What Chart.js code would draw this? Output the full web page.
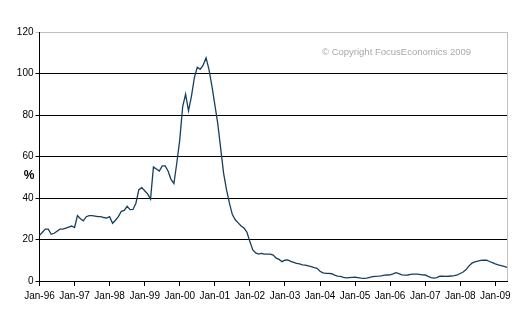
<!DOCTYPE html>
<html>
<head>
<meta charset="utf-8">
<script src="https://cdn.jsdelivr.net/npm/chart.js@4"></script>
<style>
  html, body { margin: 0; padding: 0; background: #fff; }
  #wrap { width: 525px; height: 325px; position: relative; }
</style>
</head>
<body>
<div id="wrap"><canvas id="lineChart"></canvas></div>
<script>
// monthly series, Jan-96 .. May-09 (%)
const startYear = 1996;
const values = [
    22, 23.5, 25, 25, 22.5, 23, 24, 25, 25, 25.5, 26, 26.5,          // 1996
    25.8, 31.5, 30, 29, 31, 31.5, 31.5, 31.3, 31, 31, 30.6, 30.3,    // 1997
    31, 27.8, 29.3, 31, 33.6, 34, 36, 34.4, 34.5, 37.5, 44, 45,      // 1998
    43.5, 42, 39.5, 55, 54, 53, 55.5, 55.5, 53, 49, 47, 57,          // 1999
    68, 84, 90, 82, 89, 98, 103, 102, 104, 107.5, 102, 94,           // 2000
    85, 76, 64, 52, 44, 37.5, 32, 29.5, 28, 26.5, 25.5, 23.5,        // 2001
    19, 15, 13.5, 13, 13.3, 13, 13, 13, 12.5, 11, 10.4, 9.3,         // 2002
    10, 10.2, 9.5, 9, 8.5, 8.2, 7.8, 7.7, 7.3, 6.9, 6.4, 6.1,        // 2003
    4.7, 3.9, 3.7, 3.7, 3.5, 2.8, 2.4, 2.2, 1.8, 1.5, 1.6, 1.7,      // 2004
    1.8, 1.6, 1.4, 1.3, 1.4, 1.8, 2.1, 2.2, 2.3, 2.5, 2.8, 2.9,      // 2005
    3.0, 3.4, 4.0, 3.6, 3.0, 2.8, 2.9, 3.2, 3.3, 3.3, 3.2, 3.0,      // 2006
    2.9, 2.2, 1.6, 1.4, 1.6, 2.3, 2.3, 2.2, 2.3, 2.4, 2.6, 3.0,      // 2007
    3.6, 4.3, 5.5, 7.3, 8.6, 9.2, 9.6, 9.9, 10.1, 10.0, 9.4, 8.9,    // 2008
    8.3, 7.8, 7.4, 7.0, 6.6                                           // 2009
];
const yTicks = [0, 20, 40, 60, 80, 100, 120];
const monthNames = ["Jan", "Feb", "Mar", "Apr", "May", "Jun",
                    "Jul", "Aug", "Sep", "Oct", "Nov", "Dec"];

// category labels like "Jan-96"
const labels = values.map((v, i) => {
    const yr = (startYear + Math.floor(i / 12)) % 100;
    return monthNames[i % 12] + "-" + String(yr).padStart(2, "0");
});

const FONT = "'Liberation Sans', Arial, sans-serif";

// frame, "%" label and copyright note
const extras = {
    id: 'extras',
    afterDraw(chart) {
        const ctx = chart.ctx;
        const a = chart.chartArea;
        ctx.save();
        ctx.strokeStyle = '#c0c0c0';
        ctx.lineWidth = 1;
        ctx.beginPath();
        ctx.moveTo(a.right + 0.5, a.top);
        ctx.lineTo(a.right + 0.5, a.bottom);
        ctx.stroke();

        ctx.fillStyle = '#000';
        ctx.font = "bold 12px " + FONT;
        ctx.textAlign = 'center';
        ctx.textBaseline = 'middle';
        ctx.fillText('%', 29, 176);

        ctx.fillStyle = '#a8a8a8';
        ctx.font = "9.5px " + FONT;
        ctx.textAlign = 'left';
        ctx.fillText('\u00A9 Copyright FocusEconomics 2009', 322, 52);
        ctx.restore();
    }
};

const ctx = document.getElementById('lineChart');
new Chart(ctx, {
    type: 'line',
    data: {
        labels: labels,
        datasets: [{
            data: values,
            borderColor: '#173f5c',
            borderWidth: 1.3,
            pointRadius: 0,
            tension: 0,
            fill: false
        }]
    },
    options: {
        responsive: true,
        maintainAspectRatio: false,
        animation: false,
        layout: { padding: { top: 32, right: 18, left: 0, bottom: 0 } },
        plugins: {
            legend: { display: false },
            tooltip: { enabled: false }
        },
        scales: {
            x: {
                type: 'category',
                offset: false,
                afterFit(scale) { scale.height = 44; },
                border: { color: '#000', width: 1 },
                grid: {
                    drawOnChartArea: false,
                    tickLength: 5,
                    color: c => (c.index % 12 === 0 ? '#000' : 'rgba(0,0,0,0)')
                },
                ticks: {
                    autoSkip: false,
                    maxRotation: 0,
                    minRotation: 0,
                    padding: 4,
                    color: '#000',
                    font: { family: FONT, size: 10 },
                    callback: function (val, i) {
                        return i % 12 === 0 ? labels[i] : '';
                    }
                }
            },
            y: {
                min: 0,
                max: 120,
                afterFit(scale) { scale.width = 39.5; },
                afterBuildTicks(scale) {
                    scale.ticks = yTicks.map(v => ({ value: v }));
                },
                border: { color: '#000', width: 1 },
                grid: {
                    tickLength: 4,
                    lineWidth: 1,
                    color: c => (c.tick && c.tick.value === 120 ? '#c0c0c0' : '#000')
                },
                ticks: {
                    padding: 2,
                    color: '#000',
                    font: { family: FONT, size: 10 }
                }
            }
        }
    },
    plugins: [extras]
});
</script>
</body>
</html>
